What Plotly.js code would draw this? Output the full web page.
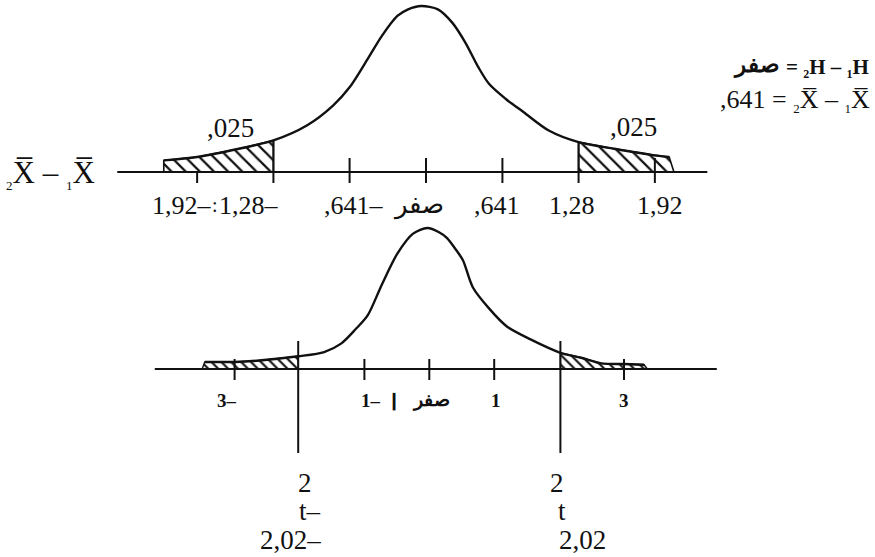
<!DOCTYPE html>
<html><head><meta charset="utf-8">
<script src="https://cdn.plot.ly/plotly-3.0.1.min.js"></script>
<style>html,body{margin:0;padding:0;background:#fff}#chart{width:875px;height:557px}</style>
</head><body><div id="chart"></div>
<script>
// ---------- data ----------
// upper curve: sampling distribution of X1 - X2 (relative heights, peak = 1)
const topCurveX = [-2.20, -1.92, -1.57, -1.28, -1.00, -0.78, -0.641, -0.49, -0.37, -0.24, -0.15, -0.04, 0.10, 0.22, 0.33, 0.44, 0.53, 0.67, 0.82, 1.03, 1.28, 1.58, 1.92, 2.04];
const topCurveY = [0.07, 0.09, 0.14, 0.19, 0.28, 0.40, 0.51, 0.68, 0.82, 0.94, 0.98, 1.00, 0.98, 0.90, 0.78, 0.63, 0.53, 0.44, 0.36, 0.25, 0.18, 0.14, 0.10, 0.09];
const topTickVals = [-1.92, -1.28, -0.641, 0, 0.641, 1.28, 1.92];
const topTickText = ['1,92–', '1,28–', ',641–', 'صفر', ',641', '1,28', '1,92'];
const topCritical = [-1.28, 1.28];
const topTailEnd = [-2.20, 2.08];
const tailAreaText = [',025', ',025'];
const topAxisExtent = [-2.59, 2.36];

// lower curve: t distribution
const botCurveX = [-3.46, -3.0, -2.62, -2.02, -1.62, -1.36, -1.14, -0.95, -0.73, -0.49, -0.25, -0.03, 0.15, 0.27, 0.42, 0.52, 0.67, 0.92, 1.20, 1.56, 2.02, 2.34, 2.65, 3.0, 3.31];
const botCurveY = [0.05, 0.05, 0.06, 0.09, 0.12, 0.18, 0.28, 0.38, 0.60, 0.82, 0.96, 1.00, 0.97, 0.93, 0.84, 0.77, 0.58, 0.43, 0.30, 0.21, 0.115, 0.08, 0.04, 0.035, 0.03];
const botTickVals = [-3, -1, 0, 1, 3];
const botTickText = ['3–', '1–', 'صفر', '1', '3'];
const tCritical = [-2.02, 2.02];
const tLabelTop = ['2', '2'];
const tLabelMid = ['t–', 't'];
const tLabelBottom = ['2,02–', '2,02'];
const botTailEnd = [-3.50, 3.36];
const botAxisExtent = [-4.23, 4.43];

// ---------- styling / geometry (not data) ----------
const W = 875, H = 557;
const topYPx = 166, botYPx = 141;          // pixels per y-unit in each panel
const SPLIT = 200;                          // pixel row separating the two panels
const SERIF = 'Liberation Serif, Times New Roman, DejaVu Serif, serif';
const INK = '#111';

function seg(xs, y0s, y1s) {
  const x = [], y = [];
  xs.forEach((v, i) => { x.push(v, v, null); y.push(y0s[i], y1s[i], null); });
  return {x, y};
}
function curveAt(xs, ys, v) { return ys[xs.indexOf(v)]; }
function tailPoly(xs, ys, from, to, endX, left) {
  const px = [], py = [];
  if (left) { px.push(endX); py.push(0); }
  xs.forEach((v, i) => { if (v >= from && v <= to) { px.push(v); py.push(ys[i]); } });
  if (left) { px.push(to, endX); py.push(0, 0); }
  else { px.push(endX, from, from); py.push(0, 0, ys[xs.indexOf(from)]); }
  return {px, py};
}

const traces = [];
const hatchTop = {shape: '\\', size: 10, solidity: 0.22, fgcolor: INK, bgcolor: 'white'};
const hatchBot = {shape: '\\', size: 7, solidity: 0.3, fgcolor: INK, bgcolor: 'white'};

// ---- upper panel ----
const lt = tailPoly(topCurveX, topCurveY, topTailEnd[0], topCritical[0], topTailEnd[0], true);
const rt = tailPoly(topCurveX, topCurveY, topCritical[1], topCurveX[topCurveX.length - 1], topTailEnd[1], false);
[lt, rt].forEach(p => traces.push({x: p.px, y: p.py, xaxis: 'x', yaxis: 'y', mode: 'lines', fill: 'toself',
  fillcolor: 'white', fillpattern: hatchTop, line: {color: INK, width: 1.6}, hoverinfo: 'skip'}));
traces.push({x: topAxisExtent, y: [0, 0], xaxis: 'x', yaxis: 'y', mode: 'lines', line: {color: INK, width: 2.2}, hoverinfo: 'skip'});
traces.push({x: topCurveX, y: topCurveY, xaxis: 'x', yaxis: 'y', mode: 'lines', line: {color: INK, width: 2.4, shape: 'spline', smoothing: 0.8}, hoverinfo: 'skip'});
const topUpPx = [0, 0, 14, 14, 14, 0, 14];
const tt = seg(topTickVals, topUpPx.map(p => p / topYPx), topTickVals.map(() => -11 / topYPx));
traces.push({x: tt.x, y: tt.y, xaxis: 'x', yaxis: 'y', mode: 'lines', line: {color: INK, width: 2}, hoverinfo: 'skip'});
const ct = seg(topCritical, topCritical.map(v => curveAt(topCurveX, topCurveY, v)), topCritical.map(() => 0));
traces.push({x: ct.x, y: ct.y, xaxis: 'x', yaxis: 'y', mode: 'lines', line: {color: INK, width: 2}, hoverinfo: 'skip'});

// ---- lower panel ----
const lb = tailPoly(botCurveX, botCurveY, botCurveX[0], tCritical[0], botTailEnd[0], true);
const rb = tailPoly(botCurveX, botCurveY, tCritical[1], botCurveX[botCurveX.length - 1], botTailEnd[1], false);
[lb, rb].forEach(p => traces.push({x: p.px, y: p.py, xaxis: 'x2', yaxis: 'y2', mode: 'lines', fill: 'toself',
  fillcolor: 'white', fillpattern: hatchBot, line: {color: INK, width: 1.4}, hoverinfo: 'skip'}));
traces.push({x: botAxisExtent, y: [0, 0], xaxis: 'x2', yaxis: 'y2', mode: 'lines', line: {color: INK, width: 2.2}, hoverinfo: 'skip'});
traces.push({x: botCurveX, y: botCurveY, xaxis: 'x2', yaxis: 'y2', mode: 'lines', line: {color: INK, width: 2.4, shape: 'spline', smoothing: 0.8}, hoverinfo: 'skip'});
const bt = seg(botTickVals, botTickVals.map(() => 10 / botYPx), botTickVals.map(() => -11 / botYPx));
traces.push({x: bt.x, y: bt.y, xaxis: 'x2', yaxis: 'y2', mode: 'lines', line: {color: INK, width: 2}, hoverinfo: 'skip'});
const tl = seg(tCritical, tCritical.map(() => 28 / botYPx), tCritical.map(() => -84 / botYPx));
traces.push({x: tl.x, y: tl.y, xaxis: 'x2', yaxis: 'y2', mode: 'lines', line: {color: INK, width: 2}, hoverinfo: 'skip'});

// ---------- annotations ----------
const ann = [];
function A(o) { ann.push(Object.assign({showarrow: false, xanchor: 'center', yanchor: 'middle'}, o)); }
const topShift = [-15, -24, 4, -8, -5, -7, 5];
topTickVals.forEach((v, i) => A({text: topTickText[i], xref: 'x', x: v, yref: 'y', y: 0, xshift: topShift[i], yshift: -33,
  font: {family: SERIF, size: 26, color: INK}}));
A({text: ':', xref: 'x', x: topTickVals[0], yref: 'y', y: 0, xshift: 18, yshift: -33, font: {family: SERIF, size: 20, color: INK}});

const botShift = [-8, 7, 2, 2, 0];
botTickVals.forEach((v, i) => A({text: '<b>' + botTickText[i] + '</b>', xref: 'x2', x: v, yref: 'y2', y: 0, xshift: botShift[i], yshift: -31,
  font: {family: SERIF, size: 19, color: INK}}));
A({text: '<b>ا</b>', xref: 'x2', x: botTickVals[1], yref: 'y2', y: 0, xshift: 30, yshift: -33, font: {family: SERIF, size: 22, color: INK}});

const sTop = [7, -3], sMid = [12, 2], sBot = [-8, 22];
tCritical.forEach((v, i) => {
  A({text: tLabelTop[i], xref: 'x2', x: v, yref: 'y2', y: 0, xshift: sTop[i], yshift: -114, font: {family: SERIF, size: 27, color: INK}});
  A({text: tLabelMid[i], xref: 'x2', x: v, yref: 'y2', y: 0, xshift: sMid[i], yshift: -142, font: {family: SERIF, size: 27, color: INK}});
  A({text: tLabelBottom[i], xref: 'x2', x: v, yref: 'y2', y: 0, xshift: sBot[i], yshift: -171, font: {family: SERIF, size: 27, color: INK}});
});

const tailPx = [[230, 128], [633, 127]];
tailAreaText.forEach((t, i) => A({text: t, xref: 'paper', x: tailPx[i][0] / W, yref: 'paper', y: 1 - tailPx[i][1] / H,
  font: {family: SERIF, size: 27, color: INK}}));

const sub = (d, s) => '<sub><span style="font-size:' + (s || 13) + 'px">' + d + '</span></sub>';
const XB = 'X\u0305';
A({text: sub('2') + XB + ' – ' + sub('1') + XB, xref: 'paper', x: 4 / W, xanchor: 'left', yref: 'paper', y: 1 - 174 / H,
  font: {family: SERIF, size: 31, color: INK}});
// hypothesis line: Arabic word and the formula kept as two texts so the order stays as printed
A({text: '<b>= ' + sub('2', 12) + 'H – ' + sub('1', 12) + 'H</b>', xref: 'paper', x: 871 / W, xanchor: 'right', yref: 'paper', y: 1 - 68 / H,
  font: {family: SERIF, size: 21, color: INK}});
A({text: '<b>صفر</b>', xref: 'paper', x: 782 / W, xanchor: 'right', yref: 'paper', y: 1 - 66 / H,
  font: {family: SERIF, size: 23, color: INK}});
A({text: ',641 = ' + sub('2') + XB + ' – ' + sub('1') + XB, xref: 'paper', x: 872 / W, xanchor: 'right', yref: 'paper', y: 1 - 101 / H,
  font: {family: SERIF, size: 26, color: INK}});

const hidden = {visible: false, fixedrange: true};
const layout = {
  width: W, height: H, margin: {l: 0, r: 0, t: 0, b: 0},
  paper_bgcolor: 'white', plot_bgcolor: 'white', showlegend: false,
  xaxis: Object.assign({domain: [0, 1], anchor: 'y', range: [-426 / 119.2, (W - 426) / 119.2]}, hidden),
  yaxis: Object.assign({domain: [1 - SPLIT / H, 1], anchor: 'x', range: [(172 - SPLIT) / topYPx, 172 / topYPx]}, hidden),
  xaxis2: Object.assign({domain: [0, 1], anchor: 'y2', range: [-429.3 / 64.9, (W - 429.3) / 64.9]}, hidden),
  yaxis2: Object.assign({domain: [0, 1 - SPLIT / H], anchor: 'x2', range: [(369 - H) / botYPx, (369 - SPLIT) / botYPx]}, hidden),
  annotations: ann
};
Plotly.newPlot('chart', traces, layout, {displayModeBar: false, staticPlot: true});
</script></body></html>
